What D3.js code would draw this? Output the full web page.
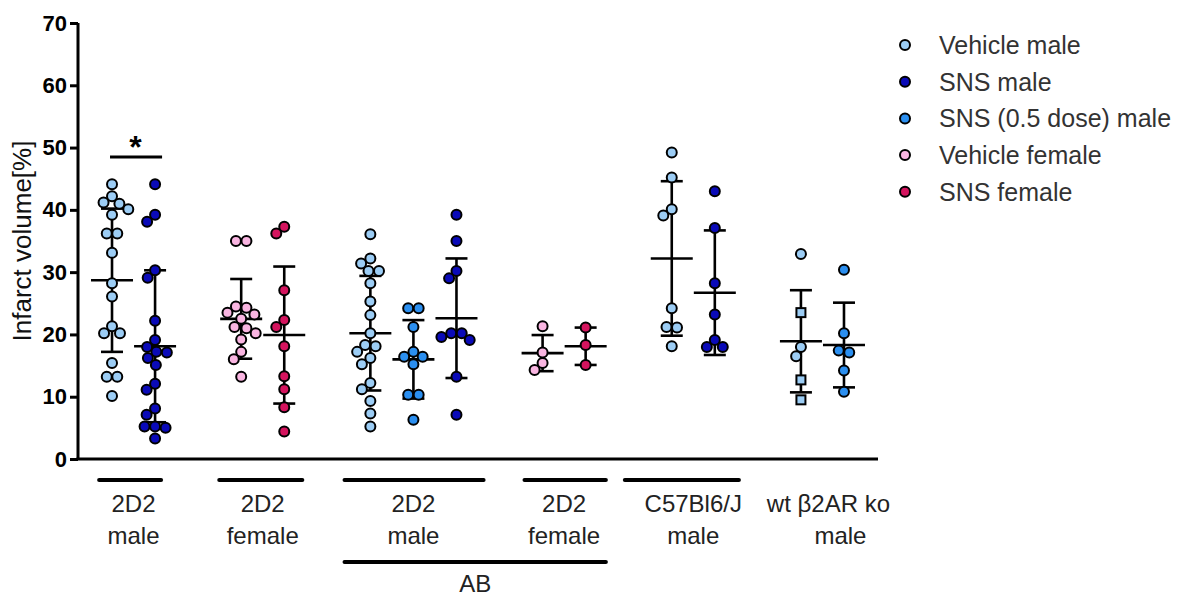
<!DOCTYPE html>
<html>
<head>
<meta charset="utf-8">
<script src="https://cdn.jsdelivr.net/npm/d3@7"></script>
<style>
  body { margin: 0; background: #fff; }
  svg { display: block; }
  text { font-family: "Liberation Sans", Arial, sans-serif; }
</style>
</head>
<body>
<svg id="chart" width="1185" height="596"></svg>
<script>
// ---- data -------------------------------------------------------------
// dot columns, left to right (spacer slots separate the experiment groups)
const slots = ["v2D2m", "s2D2m", "_g1", "v2D2f", "s2D2f", "_g2",
               "vABm", "hABm", "sABm", "_g3", "vABf", "sABf", "_g4",
               "vC57", "sC57", "_g5", "wt", "ko"];
const columns = ["v2D2m", "s2D2m", "v2D2f", "s2D2f", "vABm", "hABm", "sABm",
                 "vABf", "sABf", "vC57", "sC57", "wt", "ko"];
const columnSeries = ["Vehicle male", "SNS male", "Vehicle female", "SNS female",
                      "Vehicle male", "SNS (0.5 dose) male", "SNS male",
                      "Vehicle female", "SNS female",
                      "Vehicle male", "SNS male",
                      "Vehicle male", "SNS (0.5 dose) male"];

// infarct volume [%] per animal
const v2D2m = [44.1, 42.2, 41.2, 41.0, 40.1, 39.2, 36.2, 36.2, 33.1, 28.2, 26.1, 21.3, 20.2, 20.2, 15.4, 13.2, 13.2, 10.1];
const s2D2m = [44.1, 39.2, 38.1, 30.3, 29.1, 22.2, 19.1, 18.0, 17.2, 17.1, 16.2, 15.1, 12.1, 11.1, 8.1, 7.1, 5.2, 5.2, 5.0, 3.3];
const v2D2f = [35.0, 35.0, 24.5, 24.3, 23.5, 23.2, 22.5, 21.2, 21.0, 20.2, 19.2, 17.2, 16.0, 13.2];
const s2D2f = [37.3, 36.2, 27.1, 22.3, 21.2, 18.1, 13.3, 11.2, 8.3, 4.4];
const vABm  = [36.1, 32.2, 31.4, 30.2, 30.2, 28.2, 25.3, 23.1, 20.2, 18.3, 18.1, 17.2, 16.2, 15.2, 12.2, 11.2, 9.3, 7.3, 5.2];
const hABm  = [24.2, 24.2, 21.2, 17.2, 16.4, 16.4, 15.2, 10.3, 10.3, 6.3];
const sABm  = [39.2, 35.0, 30.2, 29.0, 20.2, 20.2, 19.6, 19.1, 13.2, 7.1];
const vABf  = [21.3, 17.1, 15.4, 14.3];
const sABf  = [21.1, 18.3, 15.1];
const vC57  = [49.2, 45.2, 40.1, 39.1, 24.2, 21.2, 21.1, 18.1];
const sC57  = [43.0, 37.1, 28.2, 23.2, 19.1, 18.0, 18.0];
const wt    = [32.9, 23.5, 18.0, 16.5, 12.7, 9.5];
const ko    = [30.4, 20.2, 17.4, 17.1, 14.2, 10.8];
const wtShapes = ["circle", "square", "circle", "circle", "square", "square"];

// mean and SD per column
const means = [28.7, 18.1, 22.5, 19.9, 20.2, 16.0, 22.6, 17.0, 18.1, 32.2, 26.7, 18.9, 18.3];
const sds   = [11.5, 12.2, 6.4, 11.0, 9.2, 6.3, 9.6, 2.9, 3.0, 12.4, 10.0, 8.2, 6.8];

// experiment groups under the x axis
const groupCols = [["v2D2m", "s2D2m"], ["v2D2f", "s2D2f"], ["vABm", "hABm", "sABm"],
                   ["vABf", "sABf"], ["vC57", "sC57"], ["wt", "ko"]];
const groupLabels = [["2D2", "male"], ["2D2", "female"], ["2D2", "male"],
                     ["2D2", "female"], ["C57Bl6/J", "male"], ["wt β2AR ko", "male"]];
const groupBars = [true, true, true, true, true, false];
const abGroups = [2, 3];

const seriesNames = ["Vehicle male", "SNS male", "SNS (0.5 dose) male", "Vehicle female", "SNS female"];
const seriesColors = ["#9ccdf5", "#0a0ab8", "#2b8ff0", "#f9b5e1", "#d4145e"];

const yTicks = [0, 10, 20, 30, 40, 50, 60, 70];

// ---- drawing ----------------------------------------------------------
const valuesByCol = {v2D2m, s2D2m, v2D2f, s2D2f, vABm, hABm, sABm, vABf, sABf, vC57, sC57, wt, ko};
const svg = d3.select("#chart");
const color = d3.scaleOrdinal(seriesNames, seriesColors);

const x = d3.scalePoint(slots, [78, 878]).padding(0.79);
const y = d3.scaleLinear([0, 70], [459, 23]);
const step = x.step();

const R = 5, D = 10.5;

// dot-plot layout: near-equal values share a centred row, then collisions are resolved
function swarm(vals) {
  const pts = vals.map((v, i) => ({v, i, py: y(v), x: 0, pref: 0}));
  const order = pts.slice().sort((a, b) => b.v - a.v);
  let k = 0;
  while (k < order.length) {
    let j = k;
    while (j + 1 < order.length && order[j + 1].py - order[k].py < D * 0.3) j++;
    const n = j - k + 1;
    for (let m = 0; m < n; m++) order[k + m].pref = (m - (n - 1) / 2) * D;
    k = j + 1;
  }
  const placed = [];
  for (const p of order) {
    const cands = [p.pref];
    for (const q of placed) {
      const dy = Math.abs(q.py - p.py);
      if (dy < D) {
        const dx = Math.sqrt(D * D - dy * dy) + 0.01;
        cands.push(q.x + dx, q.x - dx);
      }
    }
    cands.sort((a, b) => Math.abs(a - p.pref) - Math.abs(b - p.pref) || a - b);
    for (const c of cands) {
      if (placed.every(q => Math.hypot(q.x - c, q.py - p.py) >= D - 0.05)) { p.x = c; break; }
    }
    placed.push(p);
  }
  return pts;
}

// mean ± SD bars
const bars = svg.append("g").attr("stroke", "#000").attr("stroke-width", 2.6).attr("fill", "none");
columns.forEach((c, i) => {
  const cx = x(c), m = means[i], s = sds[i];
  bars.append("line").attr("x1", cx).attr("x2", cx).attr("y1", y(m + s)).attr("y2", y(m - s));
  bars.append("line").attr("x1", cx - 11).attr("x2", cx + 11).attr("y1", y(m + s)).attr("y2", y(m + s));
  bars.append("line").attr("x1", cx - 11).attr("x2", cx + 11).attr("y1", y(m - s)).attr("y2", y(m - s));
  bars.append("line").attr("x1", cx - 21).attr("x2", cx + 21).attr("y1", y(m)).attr("y2", y(m));
});

// individual animals
const dots = svg.append("g").attr("stroke", "#000").attr("stroke-width", 2);
columns.forEach((c, i) => {
  const fill = color(columnSeries[i]);
  swarm(valuesByCol[c]).forEach(p => {
    const cx = x(c) + p.x, cy = p.py;
    const shape = c === "wt" ? wtShapes[p.i] : "circle";
    if (shape === "square") {
      dots.append("rect").attr("x", cx - R + 0.5).attr("y", cy - R + 0.5)
        .attr("width", 2 * R - 1).attr("height", 2 * R - 1).attr("fill", fill);
    } else {
      dots.append("circle").attr("cx", cx).attr("cy", cy).attr("r", R).attr("fill", fill);
    }
  });
});

// y axis
const yAxis = svg.append("g").attr("transform", "translate(78,0)")
  .call(d3.axisLeft(y).tickValues(yTicks).tickSize(8).tickPadding(3).tickFormat(d3.format("d")));
yAxis.select(".domain").attr("stroke-width", 3).attr("d", `M0,${y(70)}V${y(0)}`);
yAxis.selectAll(".tick line").attr("stroke-width", 3);
yAxis.selectAll(".tick text").attr("font-size", 22).attr("font-weight", "bold")
  .attr("fill", "#000").attr("font-family", "Liberation Sans, Arial, sans-serif");

// x axis baseline
svg.append("line").attr("x1", 76.5).attr("x2", 878).attr("y1", y(0)).attr("y2", y(0))
  .attr("stroke", "#000").attr("stroke-width", 3);

// y title
svg.append("text").attr("transform", `translate(31,${(y(0) + y(70)) / 2 + 0}) rotate(-90)`)
  .attr("text-anchor", "middle").attr("font-size", 26).attr("fill", "#111")
  .text("Infarct volume[%]");

// significance marker between vehicle and SNS (2D2 male)
svg.append("line").attr("x1", x("v2D2m") - 2).attr("x2", x("s2D2m") + 7)
  .attr("y1", y(48.5)).attr("y2", y(48.5)).attr("stroke", "#000").attr("stroke-width", 3);
svg.append("text").attr("x", (x("v2D2m") + x("s2D2m")) / 2 + 2).attr("y", y(48.5) + 1)
  .attr("text-anchor", "middle").attr("font-size", 32).attr("font-weight", "bold").text("*");

// group bars (extent around the first/last column, in column steps) and labels
const barExtent = [[0.3, 0.14], [0.51, 0.42], [0.6, 0.63], [0.42, 0.47], [1.09, 0.56], null];
const labelShift = [[0, 0], [0, 0], [0, 0], [0, 0], [0, 0], [6, 18]];
groupCols.forEach((cols, gi) => {
  const x0 = x(cols[0]), x1 = x(cols[cols.length - 1]);
  const cx = (x0 + x1) / 2;
  if (groupBars[gi]) {
    const [l, r] = barExtent[gi];
    svg.append("line").attr("x1", x0 - step * l).attr("x2", x1 + step * r)
      .attr("y1", 480).attr("y2", 480).attr("stroke", "#000").attr("stroke-width", 4)
      .attr("stroke-linecap", "round");
  }
  groupLabels[gi].forEach((t, li) => {
    svg.append("text").attr("x", cx + labelShift[gi][li]).attr("y", 512 + li * 32)
      .attr("text-anchor", "middle").attr("font-size", 24).attr("fill", "#222").text(t);
  });
});

// AB bracket
const abX0 = x(groupCols[abGroups[0]][0]) - step * barExtent[abGroups[0]][0];
const abX1 = x(groupCols[abGroups[1]][groupCols[abGroups[1]].length - 1]) + step * barExtent[abGroups[1]][1];
svg.append("line").attr("x1", abX0).attr("x2", abX1).attr("y1", 562).attr("y2", 562)
  .attr("stroke", "#000").attr("stroke-width", 4).attr("stroke-linecap", "round");
svg.append("text").attr("x", (abX0 + abX1) / 2).attr("y", 592).attr("text-anchor", "middle")
  .attr("font-size", 24).attr("fill", "#222").text("AB");

// legend
const legend = svg.append("g").attr("transform", "translate(905,45)");
seriesNames.forEach((s, i) => {
  const row = legend.append("g").attr("transform", `translate(0,${i * 36.7})`);
  row.append("circle").attr("r", R).attr("fill", color(s)).attr("stroke", "#000").attr("stroke-width", 2);
  row.append("text").attr("x", 34).attr("y", 9).attr("font-size", 25).attr("fill", "#333").text(s);
});
</script>
</body>
</html>
